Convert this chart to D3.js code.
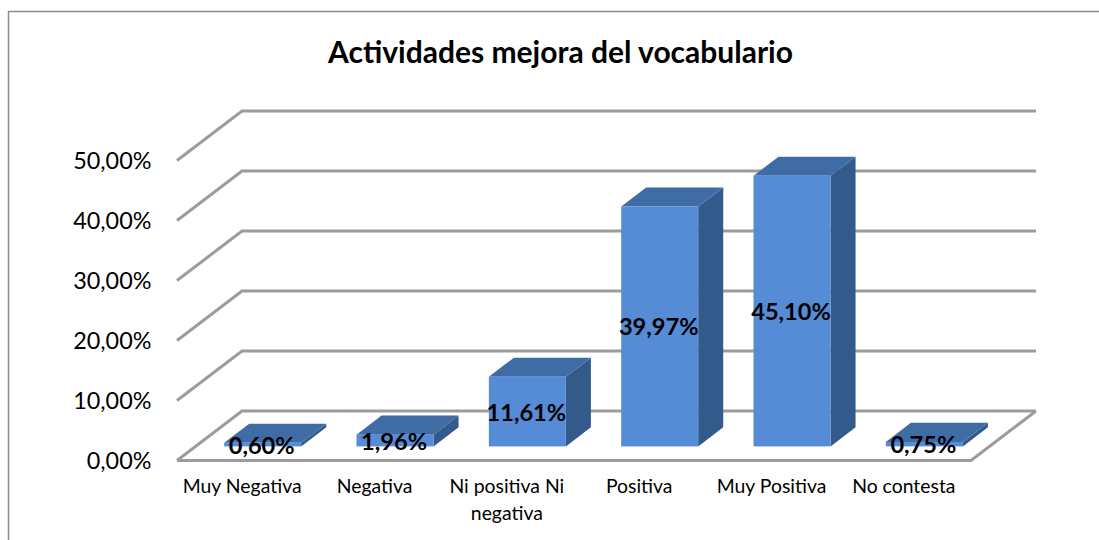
<!DOCTYPE html>
<html>
<head>
<meta charset="utf-8">
<script src="https://cdn.jsdelivr.net/npm/d3@7"></script>
<style>
    html, body { margin: 0; padding: 0; background: #fff; }
    svg { display: block; }
    text { font-family: Lato, "Noto Sans", sans-serif; fill: #000; }
</style>
</head>
<body>
<div id="chart"></div>
<script>
const categories = ['Muy Negativa', 'Negativa', 'Ni positiva Ni negativa', 'Positiva', 'Muy Positiva', 'No contesta'];
const values = [0.60, 1.96, 11.61, 39.97, 45.10, 0.75];
const valueLabels = ['0,60%', '1,96%', '11,61%', '39,97%', '45,10%', '0,75%'];
const yTicks = [0, 10, 20, 30, 40, 50];
const chartTitle = 'Actividades mejora del vocabulario';

(function () {
    const [width, height] = [1099, 540];
    // oblique offset of the chart floor, front edge to back edge
    const [depthX, depthY] = [65, -49.5];
    // the bars stand on a slice of that floor
    const [barNear, barFar] = [0.285, 0.67];

    const svg = d3.select('#chart')
        .append('svg')
        .attr('width', width)
        .attr('height', height);

    const x = d3.scaleBand()
        .domain(categories)
        .range([177, 971])
        .paddingInner(0.418)
        .paddingOuter(0.209);

    const y = d3.scaleLinear()
        .domain([0, 50])
        .range([460.5, 160.5]);

    const blur = svg.append('defs')
        .append('filter')
        .attr('id', 'soft');
    blur.append('feGaussianBlur').attr('stdDeviation', 0.45);

    const line = d3.line();

    // outer frame, only top and left are visible in the crop
    svg.append('path')
        .attr('d', line([[8.5, 540], [8.5, 11.5], [1099, 11.5]]))
        .attr('fill', 'none')
        .attr('stroke', '#8c8c8c')
        .attr('stroke-width', 1.5);

    svg.append('text')
        .attr('x', 560.5)
        .attr('y', 63)
        .attr('text-anchor', 'middle')
        .attr('font-size', 30)
        .attr('font-weight', 700)
        .text(chartTitle);

    const plot = svg.append('g').attr('filter', 'url(#soft)');

    // side wall and back wall gridlines
    plot.selectAll('.grid')
        .data(yTicks)
        .enter()
        .append('path')
        .attr('class', 'grid')
        .attr('d', d => line([
            [177, y(d)],
            [177 + depthX, y(d) + depthY],
            [971 + depthX, y(d) + depthY],
        ]))
        .attr('fill', 'none')
        .attr('stroke', '#9c9c9c')
        .attr('stroke-width', 3);

    // front and right edges of the floor
    plot.append('path')
        .attr('d', line([
            [177, y(0)],
            [971, y(0)],
            [971 + depthX, y(0) + depthY],
        ]))
        .attr('fill', 'none')
        .attr('stroke', '#9c9c9c')
        .attr('stroke-width', 3);

    const bars = plot.selectAll('.bar')
        .data(categories.map((c, i) => ({ label: c, value: values[i] })))
        .enter()
        .append('g')
        .attr('class', 'bar');

    const left = d => x(d.label) + depthX * barNear + 1;
    const right = d => left(d) + x.bandwidth();
    const base = () => y(0) + depthY * barNear;
    const top = d => base() - (y(0) - y(d.value));
    const [sideX, sideY] = [depthX * (barFar - barNear), depthY * (barFar - barNear)];

    // right side
    bars.append('path')
        .attr('d', d => line([
            [right(d), base()],
            [right(d) + sideX, base() + sideY],
            [right(d) + sideX, top(d) + sideY],
            [right(d), top(d)],
        ]) + 'Z')
        .attr('fill', '#335a8a');

    // top
    bars.append('path')
        .attr('d', d => line([
            [left(d), top(d)],
            [right(d), top(d)],
            [right(d) + sideX, top(d) + sideY],
            [left(d) + sideX, top(d) + sideY],
        ]) + 'Z')
        .attr('fill', '#3f6ca5');

    // front
    bars.append('rect')
        .attr('x', left)
        .attr('y', top)
        .attr('width', x.bandwidth())
        .attr('height', d => base() - top(d))
        .attr('fill', '#568bd5');

    // value labels sit on the front face
    svg.selectAll('.value')
        .data(categories.map((c, i) => ({ label: c, value: values[i], text: valueLabels[i] })))
        .enter()
        .append('text')
        .attr('class', 'value')
        .attr('x', d => left(d) + x.bandwidth() / 2 - 1)
        .attr('y', d => (top(d) + base()) / 2 + 9)
        .attr('text-anchor', 'middle')
        .attr('font-size', 23.6)
        .attr('font-weight', 700)
        .text(d => d.text);

    // value axis
    const yAxis = svg.append('g')
        .attr('transform', 'translate(177, 0.5)')
        .call(d3.axisLeft(y)
            .tickValues(yTicks)
            .tickSize(0)
            .tickPadding(25.5)
            .tickFormat(d => d3.format('.2f')(d).replace('.', ',') + '%'));
    yAxis.select('.domain').remove();
    yAxis.selectAll('text')
        .attr('font-size', 23.4)
        .style('font-family', 'Lato, "Noto Sans", sans-serif');

    // category axis, long labels wrap to two lines
    const labels = svg.append('g')
        .selectAll('text')
        .data(categories)
        .enter()
        .append('text')
        .attr('y', 493)
        .attr('text-anchor', 'middle')
        .attr('font-size', 19.4);
    labels.each(function (d) {
        const lines = d === 'Ni positiva Ni negativa' ? ['Ni positiva Ni', 'negativa'] : [d];
        d3.select(this)
            .selectAll('tspan')
            .data(lines)
            .enter()
            .append('tspan')
            .attr('x', x(d) + x.bandwidth() / 2 - 1)
            .attr('dy', (l, i) => i === 0 ? 0 : 27)
            .text(l => l);
    });
})();
</script>
</body>
</html>
